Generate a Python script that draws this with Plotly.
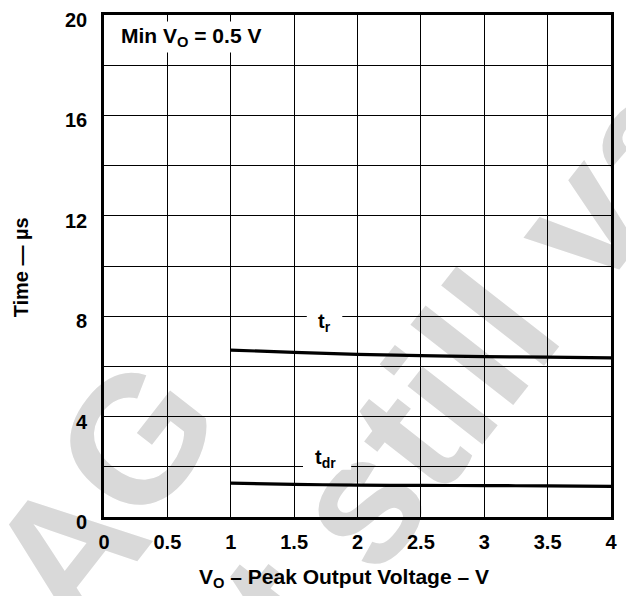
import plotly.graph_objects as go

# ---- data ----
vo = [1.0, 1.5, 2.0, 2.5, 3.0, 3.5, 4.0]
t_r = [6.65, 6.56, 6.48, 6.43, 6.39, 6.37, 6.34]
t_dr = [1.35, 1.30, 1.27, 1.26, 1.25, 1.24, 1.22]

x_ticks = [0, 0.5, 1, 1.5, 2, 2.5, 3, 3.5, 4]
x_tick_text = ["0", "0.5", "1", "1.5", "2", "2.5", "3", "3.5", "4"]
y_ticks = [0, 2, 4, 6, 8, 10, 12, 14, 16, 18, 20]
y_tick_text = ["0", "", "4", "", "8", "", "12", "", "16", "", "20"]

FONT = "Liberation Sans, Arial, Helvetica, sans-serif"
WM = "#d9d9d9"

fig = go.Figure()
fig.add_trace(go.Scatter(x=vo, y=t_r, mode="lines", line=dict(color="black", width=3.2, shape="spline"),
                         showlegend=False, hoverinfo="skip"))
fig.add_trace(go.Scatter(x=vo, y=t_dr, mode="lines", line=dict(color="black", width=3.2, shape="spline"),
                         showlegend=False, hoverinfo="skip"))

axis_common = dict(showline=True, linecolor="black", linewidth=2.7, mirror=True,
                   showgrid=True, gridcolor="black", gridwidth=1.3, zeroline=False,
                   ticks="", tickfont=dict(family=FONT, size=20, color="black", weight="bold"))

fig.update_xaxes(range=[0, 4], tickvals=x_ticks, ticktext=x_tick_text, ticklabelstandoff=5, **axis_common)
fig.update_yaxes(range=[0, 20], tickvals=y_ticks, ticktext=y_tick_text, ticklabelstandoff=10,
                 ticklabelshift=5, **axis_common)


def wm_label(text, cx, cy, size=180, angle=-52):
    return dict(type="rect", xref="paper", yref="paper", layer="below",
                x0=cx - 0.01, x1=cx + 0.01, y0=cy - 0.01, y1=cy + 0.01,
                line=dict(width=0), fillcolor="rgba(0,0,0,0)",
                label=dict(text=text, textangle=angle, textposition="middle center",
                           font=dict(family=FONT, size=size, color=WM, weight="bold")))


shapes = [
    # watermark (behind everything)
    wm_label("A", -0.100, -0.045),
    wm_label("G", 0.037, 0.177),
    wm_label("nt still va", 0.620, 0.238),
    # gaps in gridlines behind curve labels
    dict(type="rect", xref="x", yref="y", layer="between",
         x0=1.6, x1=1.88, y0=7.88, y1=8.12, line=dict(width=0), fillcolor="white"),
    dict(type="rect", xref="x", yref="y", layer="between",
         x0=1.57, x1=1.95, y0=1.88, y1=2.12, line=dict(width=0), fillcolor="white"),
]
fig.update_layout(shapes=shapes)

ann_font = dict(family=FONT, size=20, color="black", weight="bold")
fig.add_annotation(x=1.74, y=7.76, xref="x", yref="y", text="t<sub>r</sub>", showarrow=False, font=ann_font)
fig.add_annotation(x=1.75, y=2.35, xref="x", yref="y", text="t<sub>dr</sub>", showarrow=False, font=ann_font)
fig.add_annotation(x=0.171, y=0.956, xref="paper", yref="paper", xanchor="center", yanchor="middle",
                   text="Min V<sub>O</sub> = 0.5 V", showarrow=False, bgcolor="white", borderpad=2,
                   font=dict(family=FONT, size=21, color="black", weight="bold"))
fig.add_annotation(x=0.4735, y=-0.122, xref="paper", yref="paper", xanchor="center", yanchor="middle",
                   text="V<sub>O</sub> – Peak Output Voltage – V", showarrow=False,
                   font=dict(family=FONT, size=21, color="black", weight="bold"))
fig.add_annotation(x=-0.163, y=0.498, xref="paper", yref="paper", xanchor="center", yanchor="middle",
                   textangle=-90, text="Time — µs", showarrow=False,
                   font=dict(family=FONT, size=20, color="black", weight="bold"))

fig.update_layout(width=626, height=596, margin=dict(l=104, r=13, t=9, b=79),
                  paper_bgcolor="white", plot_bgcolor="rgba(0,0,0,0)")

fig.write_html("out.html", config={"displayModeBar": False},
               post_script="document.body.style.margin='0';document.body.style.padding='0';")
